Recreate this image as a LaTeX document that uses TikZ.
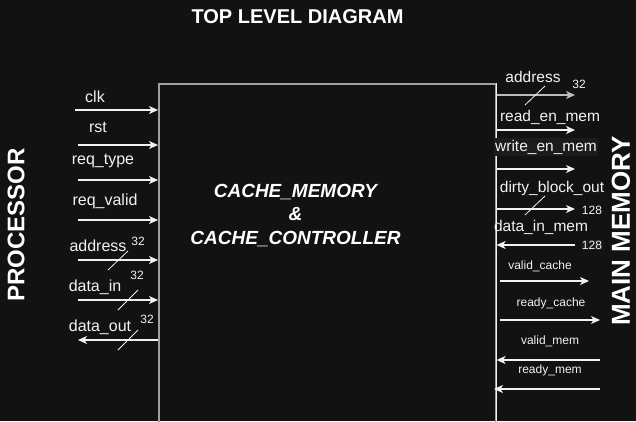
\documentclass[tikz,border=0pt]{standalone}
\usepackage{fontspec}
\setmainfont{Liberation Sans}
\usetikzlibrary{arrows.meta}
\definecolor{bgdark}{HTML}{121212}
\definecolor{edgegray}{HTML}{A0A0A0}
\definecolor{linewhite}{HTML}{F2F2F2}
\definecolor{lblbox}{HTML}{1C1C1C}
\tikzset{
  sig/.style={draw=linewhite, line width=1.2pt, -{Stealth[length=9pt,width=8pt,inset=2.5pt]}},
  bus/.style={draw=linewhite, line width=0.8pt},
  lbl/.style={text=linewhite, inner sep=0pt, font=\fontsize{15.5}{17}\selectfont},
  lbll/.style={lbl, font=\fontsize{16}{18}\selectfont},
  small/.style={text=linewhite, inner sep=0pt, font=\fontsize{12}{14}\selectfont},
  side/.style={text=white, rotate=90, inner sep=0pt, font=\bfseries\fontsize{24}{26}\selectfont},
}
\begin{document}
\begin{tikzpicture}[x=1pt,y=-1pt]
  \useasboundingbox [fill=bgdark] (0,0) rectangle (636,421);
  \clip (0,0) rectangle (636,421);
  % main block
  \node (blk) [draw=edgegray, line width=1.6pt, minimum width=337pt, minimum height=357pt,
    inner sep=0pt, anchor=north west] at (158,83) {};
  \draw [linewhite, line width=1.3pt] (blk.north east) -- (blk.south east);
  \node (core) [text=white, align=center, font=\bfseries\itshape\fontsize{19}{23.5}\selectfont]
    at (295.5,215.5) {CACHE\_MEMORY\\\&\\CACHE\_CONTROLLER};
  \node (title) [text=white, font=\bfseries\fontsize{20}{22}\selectfont] at (297.5,17) {TOP LEVEL DIAGRAM};
  \node (proc) [side] at (16,225) {PROCESSOR};
  \node (mem) [side, font=\bfseries\fontsize{26}{28}\selectfont] at (621,231) {MAIN MEMORY};
  % processor side
  \node (clk) [lbll] at (95,97) {clk};
  \coordinate (clk-s) at (75,110);
  \draw [sig] (clk-s) -- (clk-s -| blk.west);
  \node (rst) [lbll] at (98,127) {rst};
  \coordinate (rst-s) at (78,145);
  \draw [sig] (rst-s) -- (rst-s -| blk.west);
  \node (rtype) [lbll] at (103,161) {req\_type};
  \coordinate (rtype-s) at (78,180);
  \draw [sig] (rtype-s) -- (rtype-s -| blk.west);
  \node (rvalid) [lbll] at (105,201) {req\_valid};
  \coordinate (rvalid-s) at (78,220);
  \draw [sig] (rvalid-s) -- (rvalid-s -| blk.west);
  \node (paddr) [lbll] at (98,246) {address};
  \coordinate (paddr-s) at (78,260);
  \draw [sig] (paddr-s) -- (paddr-s -| blk.west);
  \draw [bus] (108,270) -- (128,251);
  \node (paddr-w) [small] at (138,241) {32};
  \node (din) [lbll] at (95,287) {data\_in};
  \coordinate (din-s) at (78,300);
  \draw [sig] (din-s) -- (din-s -| blk.west);
  \draw [bus] (118,310) -- (138,290);
  \node (din-w) [small] at (137,275) {32};
  \node (dout) [lbll] at (100,327) {data\_out};
  \coordinate (dout-e) at (78,340);
  \draw [sig] (dout-e -| blk.west) -- (dout-e);
  \draw [bus] (118,350) -- (138,330);
  \node (dout-w) [small] at (147,319) {32};
  % memory side
  \node (maddr) [lbl] at (533,77) {address};
  \coordinate (maddr-e) at (575,95);
  \draw [sig, draw=edgegray!70!white] (maddr-e -| blk.east) -- (maddr-e);
  \draw [bus] (525,105) -- (545,86);
  \node (maddr-w) [small] at (579,84) {32};
  \node (rdmem) [lbl] at (550,117) {read\_en\_mem};
  \coordinate (rdmem-e) at (575,130);
  \draw [sig] (rdmem-e -| blk.east) -- (rdmem-e);
  \node (wrmem) [lbl, fill=lblbox, inner xsep=1pt, inner ysep=2pt] at (546,147) {write\_en\_mem};
  \coordinate (wrmem-e) at (575,169);
  \draw [sig] (wrmem-e -| blk.east) -- (wrmem-e);
  \node (dirty) [lbl] at (552,188) {dirty\_block\_out};
  \coordinate (dirty-e) at (575,209);
  \draw [sig] (dirty-e -| blk.east) -- (dirty-e);
  \draw [bus] (525,215) -- (545,196);
  \node (dirty-w) [small] at (592,210) {128};
  \node (dinmem) [lbl] at (541,227) {data\_in\_mem};
  \coordinate (dinmem-s) at (575,245);
  \draw [sig] (dinmem-s) -- (dinmem-s -| blk.east);
  \node (dinmem-w) [small, fill=lblbox, inner sep=1pt] at (592,245) {128};
  \node (vcache) [small] at (540,266) {valid\_cache};
  \coordinate (vcache-s) at (500,281);
  \coordinate (vcache-e) at (589,281);
  \draw [sig] (vcache-s) -- (vcache-e);
  \node (rcache) [small] at (551,303) {ready\_cache};
  \coordinate (rcache-s) at (500,320);
  \coordinate (rcache-e) at (600,320);
  \draw [sig] (rcache-s) -- (rcache-e);
  \node (vmem) [small] at (550,341) {valid\_mem};
  \coordinate (vmem-s) at (600,360);
  \draw [sig] (vmem-s) -- (vmem-s -| blk.east);
  \node (rmem) [small] at (550,370) {ready\_mem};
  \coordinate (rmem-s) at (600,389);
  \coordinate (rmem-e) at (494,389);
  \draw [sig] (rmem-s) -- (rmem-e);
\end{tikzpicture}
\end{document}
